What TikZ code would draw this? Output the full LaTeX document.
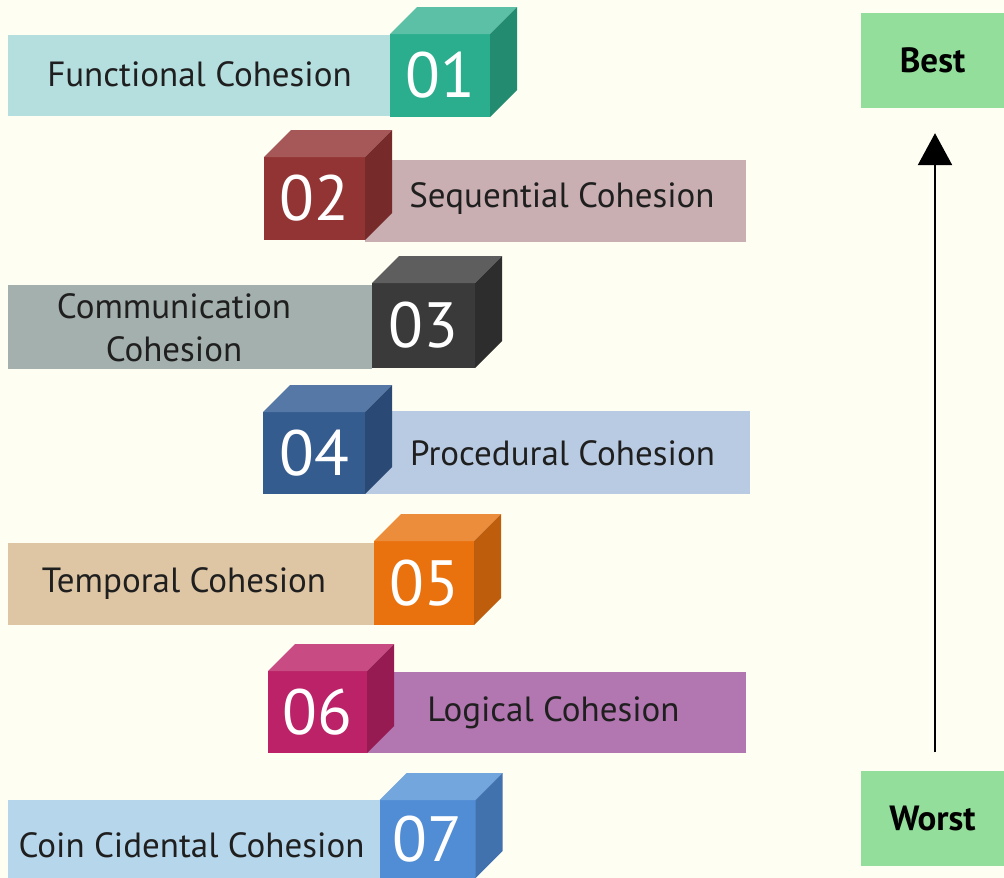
\documentclass[tikz,border=0pt]{standalone}
\usepackage{fontspec}
\setmainfont{PT Sans}
\usetikzlibrary{arrows.meta}
\definecolor{bg}{HTML}{FFFEF3}
\definecolor{bA}{HTML}{B5DEDF}\definecolor{fA}{HTML}{2BAE8E}\definecolor{tA}{HTML}{5BC0A6}\definecolor{sA}{HTML}{228B70}
\definecolor{bB}{HTML}{C9AEB2}\definecolor{fB}{HTML}{923434}\definecolor{tB}{HTML}{A65757}\definecolor{sB}{HTML}{772A2A}
\definecolor{bC}{HTML}{A4B0AD}\definecolor{fC}{HTML}{3A3A3A}\definecolor{tC}{HTML}{5E5E5E}\definecolor{sC}{HTML}{2D2D2D}
\definecolor{bD}{HTML}{B9CBE2}\definecolor{fD}{HTML}{345C8F}\definecolor{tD}{HTML}{5678A6}\definecolor{sD}{HTML}{2A4A75}
\definecolor{bE}{HTML}{DEC6A5}\definecolor{fE}{HTML}{E9720F}\definecolor{tE}{HTML}{EC8D3C}\definecolor{sE}{HTML}{BE5D0C}
\definecolor{bF}{HTML}{B276B0}\definecolor{fF}{HTML}{BB2267}\definecolor{tF}{HTML}{C84C83}\definecolor{sF}{HTML}{971B53}
\definecolor{bG}{HTML}{B6D6EC}\definecolor{fG}{HTML}{518DD5}\definecolor{tG}{HTML}{74A6DE}\definecolor{sG}{HTML}{4272AE}
\definecolor{rate}{HTML}{93DE9A}
\tikzset{
  band/.style={rectangle, inner sep=0pt, outer sep=0pt},
  label/.style={inner sep=0pt, outer sep=0pt, font=\fontsize{35}{43}\selectfont, text=black!88, align=center},
  front/.style={rectangle, inner sep=0pt, outer sep=0pt, text=white, font=\fontsize{64}{64}\selectfont},
  rating/.style={rectangle, fill=rate, inner sep=0pt, minimum width=143, minimum height=95, font=\bfseries\fontsize{35}{40}\selectfont},
}
\newcommand\faces[3]{%
  \fill[#2] (#1.north west) -- ++(27,-27) -- ([shift={(27,-27)}]#1.north east) -- (#1.north east) -- cycle;
  \fill[#3] (#1.north east) -- ++(27,-27) -- ([shift={(27,-27)}]#1.south east) -- (#1.south east) -- cycle;
}
\begin{document}
\begin{tikzpicture}[x=1pt,y=-1pt]
\fill[bg] (0,0) rectangle (1004,878);
\useasboundingbox (0,0) rectangle (1004,878);
% bands
\node[band, fill=bA, minimum width=382, minimum height=81] (bandA) at (199,75.5) {};
\node[band, fill=bB, minimum width=381, minimum height=82] (bandB) at (555.5,201) {};
\node[band, fill=bC, minimum width=364, minimum height=84] (bandC) at (190,327) {};
\node[band, fill=bD, minimum width=385, minimum height=83] (bandD) at (557.5,452.5) {};
\node[band, fill=bE, minimum width=366, minimum height=82] (bandE) at (191,584) {};
\node[band, fill=bF, minimum width=379, minimum height=81] (bandF) at (556.5,712.5) {};
\node[band, fill=bG, minimum width=372, minimum height=78] (bandG) at (194,839) {};
% labels
\node[label] (textA) at (199.5,74) {Functional Cohesion};
\node[label] (textB) at (562,199) {Sequential Cohesion};
\node[label] (textC) at (174,328) {Communication\\Cohesion};
\node[label] (textD) at (562.5,453) {Procedural Cohesion};
\node[label] (textE) at (184,584) {Temporal Cohesion};
\node[label] (textF) at (553.5,713) {Logical Cohesion};
\node[label] (textG) at (191.5,845) {Coin Cidental Cohesion};
% cubes
\node[front, fill=fA, minimum width=100, minimum height=83] (cubeA) at (440,75.5) {01};
\faces{cubeA}{tA}{sA}
\node[front, fill=fB, minimum width=101, minimum height=83] (cubeB) at (314.5,198.5) {02};
\faces{cubeB}{tB}{sB}
\node[front, fill=fC, minimum width=103, minimum height=85] (cubeC) at (423.5,325.5) {03};
\faces{cubeC}{tC}{sC}
\node[front, fill=fD, minimum width=102, minimum height=82] (cubeD) at (314,453) {04};
\faces{cubeD}{tD}{sD}
\node[front, fill=fE, minimum width=100, minimum height=84] (cubeE) at (424,583) {05};
\faces{cubeE}{tE}{sE}
\node[front, fill=fF, minimum width=99, minimum height=82] (cubeF) at (317.5,712) {06};
\faces{cubeF}{tF}{sF}
\node[front, fill=fG, minimum width=96, minimum height=78] (cubeG) at (427.5,839) {07};
\faces{cubeG}{tG}{sG}
% rating
\node[rating] (best) at (932.5,60.5) {Best};
\node[rating] (worst) at (932.5,818) {Worst};
\draw[line width=2.5pt, -{Triangle[length=32pt,width=34pt]}, shorten >=25pt, shorten <=18pt] (worst.north -| 935,0) -- (best.south -| 935,0);
\end{tikzpicture}
\end{document}
